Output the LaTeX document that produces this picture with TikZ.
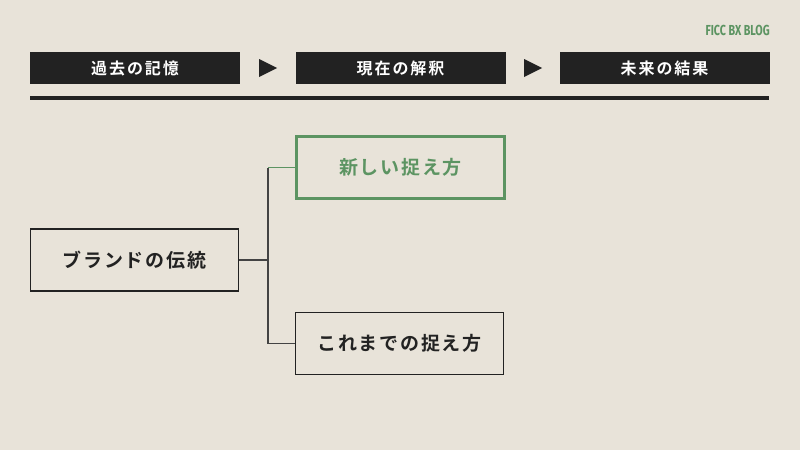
\documentclass[tikz,border=0pt]{standalone}
\usepackage{fontspec}
\newfontfamily\jpfont[BoldFont={Noto Sans CJK JP Bold}]{Noto Sans CJK JP}
\newfontfamily\logofont{Fira Sans}
\definecolor{bg}{HTML}{E8E3D9}
\definecolor{ink}{HTML}{222222}
\definecolor{grn}{HTML}{5C9462}
\usetikzlibrary{positioning}
\begin{document}
\begin{tikzpicture}[x=1pt,y=-1pt,
  topbox/.style={fill=ink,draw=none,minimum width=210pt,minimum height=32pt,inner sep=0pt,text=white,font=\jpfont\bfseries\fontsize{16}{16}\selectfont\addfontfeatures{LetterSpace=12}},
  mainbox/.style={draw=ink,line width=1.3pt,fill=none,minimum width=208pt,minimum height=62pt,inner sep=0pt,text=ink,font=\jpfont\bfseries\fontsize{19}{19}\selectfont\addfontfeatures{LetterSpace=9}},
  greenbox/.style={mainbox,draw=grn,line width=3pt,text=grn},
  tri/.style={fill=ink,draw=none},
  conn/.style={draw=ink!85,line width=1.2pt}]
\fill[bg] (0,0) rectangle (800,450);
\useasboundingbox (0,0) rectangle (800,450);
\node[text=grn,font=\logofont\bfseries\fontsize{14.5}{14.5}\selectfont,anchor=east,inner sep=0pt] (logo) at (770,30) {\scalebox{0.74}[1]{FICC BX BLOG}};
\node[topbox] (t1) at (135,68) {過去の記憶};
\node[topbox] (t2) at (400.5,68) {現在の解釈};
\node[topbox] (t3) at (664.5,68) {未来の結果};
\fill[tri] (259,59) -- (277,68) -- (259,77) -- cycle;
\fill[tri] (524,59) -- (542,68) -- (524,77) -- cycle;
\fill[ink] (30,95.5) rectangle (769,99.5);
\node[mainbox] (brand) at (134.5,260) {ブランドの伝統};
\node[greenbox] (new) at (400.5,167.5) {新しい捉え方};
\node[mainbox] (old) at (399.5,343.5) {これまでの捉え方};
\coordinate (j) at (268,260);
\coordinate (jt) at (268,167.5);
\coordinate (jb) at (268,343.5);
\draw[conn] (brand.east) -- (j);
\draw[conn] (jt) -- (jb) -- (old.west);
\draw[draw=grn,line width=1.2pt] (jt) -- (new.west);
\end{tikzpicture}
\end{document}
